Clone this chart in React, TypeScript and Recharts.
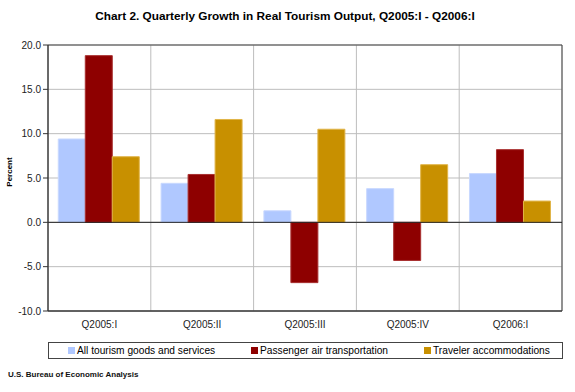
import { BarChart, Bar, XAxis, YAxis, CartesianGrid, ReferenceLine, ReferenceArea } from "recharts"

const quarters = ["Q2005:I", "Q2005:II", "Q2005:III", "Q2005:IV", "Q2006:I"]
const allTourism = [9.4, 4.4, 1.3, 3.8, 5.5]
const passengerAir = [18.8, 5.4, -6.8, -4.3, 8.2]
const accommodations = [7.4, 11.6, 10.5, 6.5, 2.4]
const yTicks = [-10, -5, 0, 5, 10, 15, 20]

const seriesInfo = [
  { key: "all", name: "All tourism goods and services", fill: "#B0C8FF", stroke: "#C8D8FF" },
  { key: "air", name: "Passenger air transportation", fill: "#8E0000", stroke: "#A83030" },
  { key: "acc", name: "Traveler accommodations", fill: "#C89000", stroke: "#E0B448" },
]

const data = quarters.map((q, i) => ({
  quarter: q,
  all: allTourism[i],
  air: passengerAir[i],
  acc: accommodations[i],
}))

const font = "'Liberation Sans', Arial, sans-serif"

// legend square positions, measured from the left edge of the box
const legendLefts = [19, 202, 375]

function LegendBox() {
  return (
    <div style={{
      position: "absolute", left: 48, top: 342, width: 513, height: 15,
      border: "1px solid #444", fontFamily: font, fontSize: 10.2, color: "#000",
    }}>
      {seriesInfo.map((s, i) => (
        <div key={s.key} style={{
          position: "absolute", left: legendLefts[i], top: 0, height: 15,
          display: "flex", alignItems: "center", whiteSpace: "nowrap",
        }}>
          <span style={{ width: 7, height: 7, background: s.fill, marginRight: 2, display: "inline-block" }} />
          <span>{s.name}</span>
        </div>
      ))}
    </div>
  )
}

export default function App() {
  return (
    <div style={{ position: "absolute", left: 0, top: 0, width: 575, height: 392, background: "#fff" }}>
      <div style={{
        position: "absolute", left: 0, top: 9, width: 570, textAlign: "center",
        fontFamily: font, fontSize: 11.8, fontWeight: "bold",
      }}>
        Chart 2. Quarterly Growth in Real Tourism Output, Q2005:I - Q2006:I
      </div>
      <BarChart
        width={575}
        height={392}
        data={data}
        margin={{ top: 45, right: 13, bottom: 61, left: 0 }}
        barCategoryGap="10%"
        barGap={0}
      >
        <CartesianGrid
          stroke="#BDBDBD"
          verticalCoordinatesGenerator={({ offset }: any) =>
            quarters.map((_, i) => offset.left + ((i + 1) * offset.width) / quarters.length)}
        />
        <XAxis
          dataKey="quarter"
          height={20}
          axisLine={{ stroke: "#333" }}
          tickLine={false}
          tick={{ fontSize: 10, fill: "#222", fontFamily: font }}
          tickMargin={4}
        />
        <YAxis
          domain={[-10, 20]}
          ticks={yTicks}
          width={48}
          axisLine={{ stroke: "#333" }}
          tickLine={{ stroke: "#333" }}
          tickSize={5}
          tickFormatter={(v: number) => v.toFixed(1)}
          tick={{ fontSize: 10, fill: "#222", fontFamily: font }}
          interval={0}
          label={{
            value: "Percent", angle: -90, position: "insideLeft", offset: 9, dy: -6,
            style: { fontSize: 8, fontFamily: font, fontWeight: "bold", fill: "#000", textAnchor: "middle" },
          }}
        />
        <ReferenceArea y1={-10} y2={20} fill="none" stroke="#444" strokeWidth={1} ifOverflow="visible" />
        <ReferenceLine y={0} stroke="#222" />
        {seriesInfo.map((s) => (
          <Bar key={s.key} dataKey={s.key} name={s.name} fill={s.fill} stroke={s.stroke} isAnimationActive={false} />
        ))}
      </BarChart>
      <LegendBox />
      <div style={{
        position: "absolute", left: 8, top: 370, fontFamily: font, fontSize: 8, fontWeight: "bold", color: "#111",
      }}>
        U.S. Bureau of Economic Analysis
      </div>
    </div>
  )
}
